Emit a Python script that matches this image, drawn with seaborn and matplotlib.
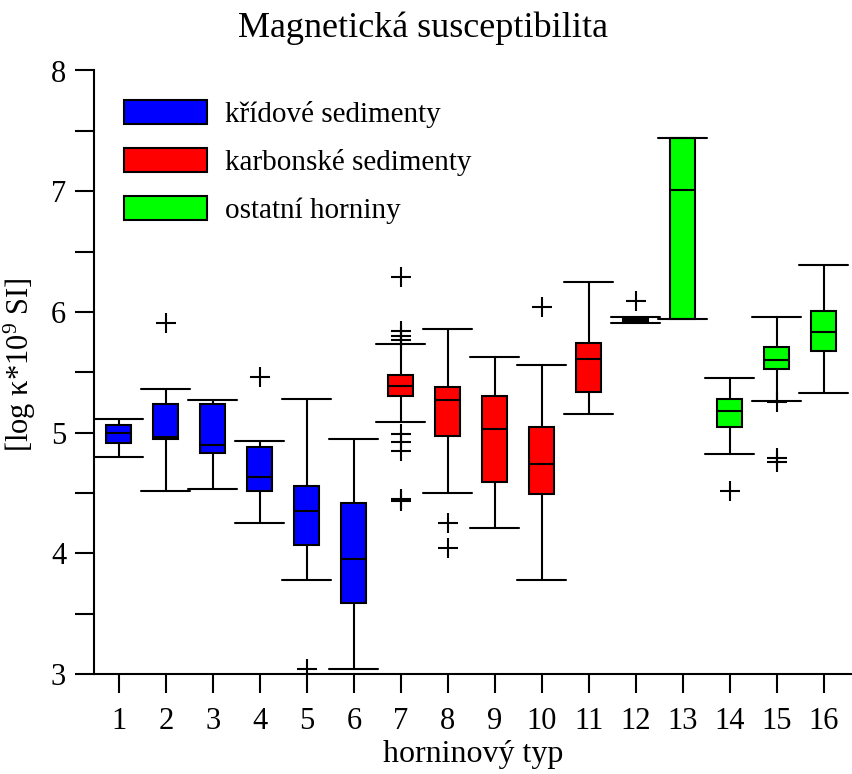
import matplotlib
matplotlib.use("Agg")
import matplotlib.pyplot as plt
import seaborn as sns
from matplotlib.patches import Patch
from matplotlib.ticker import MultipleLocator

# ---- data ----
types = list(range(1, 17))
whislo = [4.80, 4.52, 4.53, 4.25, 3.78, 3.04, 5.09, 4.50, 4.21, 3.78, 5.15, 5.91, 5.94, 4.82, 5.26, 5.33]
q1     = [4.91, 4.95, 4.83, 4.52, 4.07, 3.59, 5.30, 4.97, 4.59, 4.49, 5.34, 5.92, 5.94, 5.05, 5.53, 5.68]
med    = [5.00, 4.96, 4.90, 4.63, 4.35, 3.95, 5.39, 5.27, 5.03, 4.74, 5.61, 5.935, 7.01, 5.18, 5.60, 5.83]
q3     = [5.06, 5.24, 5.24, 4.88, 4.56, 4.42, 5.48, 5.38, 5.30, 5.05, 5.74, 5.95, 7.44, 5.28, 5.71, 6.01]
whishi = [5.11, 5.36, 5.27, 4.93, 5.28, 4.95, 5.73, 5.86, 5.63, 5.56, 6.25, 5.96, 7.44, 5.45, 5.96, 6.39]
fliers = [
    [], [5.91], [], [5.46], [3.04], [],
    [6.29, 5.84, 5.80, 5.77, 4.99, 4.92, 4.85, 4.45, 4.43],
    [4.25, 4.04], [], [6.04], [],
    [6.09], [], [4.52], [5.25, 4.79, 4.76], [],
]
group_names = ["křídové sedimenty", "karbonské sedimenty", "ostatní horniny"]
group_of_type = [0] * 6 + [1] * 5 + [2] * 5
group_colors = ["#0000FF", "#FF0000", "#00FF00"]
y_ticks = [3, 4, 5, 6, 7, 8]

sns.set_theme(style="ticks")
plt.rcParams["font.family"] = ["Liberation Serif", "DejaVu Serif"]
plt.rcParams["mathtext.fontset"] = "custom"
plt.rcParams["mathtext.rm"] = "Liberation Serif"
plt.rcParams["mathtext.it"] = "Liberation Serif:italic"
plt.rcParams["text.color"] = "black"
plt.rcParams["axes.labelcolor"] = "black"
plt.rcParams["xtick.color"] = "black"
plt.rcParams["ytick.color"] = "black"

W, H = 852, 774
fig = plt.figure(figsize=(W / 100, H / 100), dpi=100)
fig.patch.set_facecolor("white")
ax_l, ax_r, ax_b, ax_t = 94, 852, 674, 70.5
ax = fig.add_axes([ax_l / W, 1 - ax_b / H, (ax_r - ax_l) / W, (ax_b - ax_t) / H])
ax.set_facecolor("white")

stats = []
for i, t in enumerate(types):
    stats.append(dict(whislo=whislo[i], q1=q1[i], med=med[i], q3=q3[i],
                      whishi=whishi[i], fliers=fliers[i], label=str(t)))

lw = 1.5
bp = ax.bxp(stats, positions=types, widths=0.53, capwidths=1.04,
            patch_artist=True, manage_ticks=False,
            boxprops=dict(linewidth=lw, edgecolor="black"),
            medianprops=dict(color="black", linewidth=lw),
            whiskerprops=dict(color="black", linewidth=lw),
            capprops=dict(color="black", linewidth=lw),
            flierprops=dict(marker="+", markersize=15, markeredgewidth=1.5,
                            markeredgecolor="black", linestyle="none"))
for patch, g in zip(bp["boxes"], group_of_type):
    patch.set_facecolor(group_colors[g])

ax.set_xlim(0.47, 16.6)
ax.set_ylim(3, 8)
ax.set_xticks(types)
ax.set_xticklabels([str(t) for t in types])
ax.set_yticks(y_ticks)
ax.set_yticklabels([str(v) for v in y_ticks])
ax.yaxis.set_minor_locator(MultipleLocator(0.5))

ax.tick_params(axis="both", which="both", direction="out", length=14,
               width=1.5, color="black", labelcolor="black", labelsize=22)
ax.tick_params(axis="x", pad=10)
ax.tick_params(axis="y", pad=6)
ax.tick_params(axis="x", which="minor", length=0)

for s in ["top", "right"]:
    ax.spines[s].set_visible(False)
for s in ["left", "bottom"]:
    ax.spines[s].set_linewidth(1.5)
    ax.spines[s].set_color("black")
ax.grid(False)

handles = [Patch(facecolor=c, edgecolor="black", linewidth=1.5, label=n)
           for n, c in zip(group_names, group_colors)]
ax.legend(handles=handles, loc="upper left",
          bbox_to_anchor=((124 - ax_l) / (ax_r - ax_l), (ax_b - 100) / (ax_b - ax_t)),
          frameon=False, fontsize=21, handlelength=2.83, handleheight=0.9,
          handletextpad=0.62, labelspacing=0.68, borderpad=0, borderaxespad=0,
          labelcolor="black")

ax.set_xlabel("horninový typ", fontsize=23, color="black")
ax.xaxis.set_label_coords(0.5, (ax_b - 740) / (ax_b - ax_t))
ax.xaxis.label.set_va("top")
ax.set_ylabel("[log κ*10$^{9}$ SI]", fontsize=22, color="black", va="center")
ax.yaxis.set_label_coords((20 - ax_l) / (ax_r - ax_l), (ax_b - 365) / (ax_b - ax_t))

fig.text(423 / W, 1 - 28 / H, "Magnetická susceptibilita", fontsize=26,
         ha="center", va="center", color="black")

fig.savefig("out.png", dpi=100, facecolor="white")
